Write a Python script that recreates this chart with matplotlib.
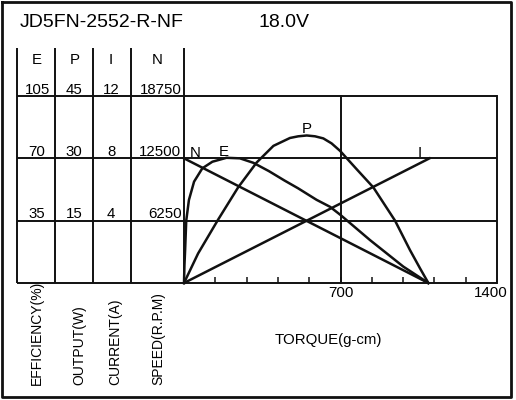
import matplotlib
matplotlib.use("Agg")
import matplotlib.pyplot as plt
from matplotlib.transforms import blended_transform_factory as blend, offset_copy

plt.rcParams['font.family'] = ['Liberation Sans', 'DejaVu Sans']

MODEL = "JD5FN-2552-R-NF"
VOLT = "18.0V"

# ---- curves (torque in g-cm) ----
N_T = [0, 1093]
N_RPM = [12500, 0]
I_T = [0, 1098]
I_A = [0, 8]
P_T = [0, 63, 152, 242, 325, 400, 474, 511, 549, 586, 623, 660, 698, 772, 847, 944, 1011, 1056, 1093]
P_W = [0, 7.1, 15.2, 23.0, 29.0, 33.0, 34.9, 35.3, 35.5, 35.3, 34.8, 33.6, 31.8, 27.4, 23.0, 15.0, 7.9, 3.5, 0]
E_T = [0, 2, 5, 10, 22, 45, 82, 127, 190, 250, 310, 380, 450, 510, 593, 653, 700, 832, 981, 1093]
E_PCT = [0, 10, 18.5, 35, 46.6, 56.9, 64.4, 68.1, 70.3, 70.0, 67.5, 62.8, 57.5, 53.2, 46.7, 42.8, 38.2, 24.1, 9.2, 0]

TORQUE_TICKS = [140, 280, 420, 560, 700, 840, 980, 1120, 1260]
E_TICKS = [35, 70, 105]
P_TICKS = [15, 30, 45]
I_TICKS = [4, 8, 12]
N_TICKS = [6250, 12500, 18750]
HEADS = ["E", "P", "I", "N"]
UNITS = ["EFFICIENCY(%)", "OUTPUT(W)", "CURRENT(A)", "SPEED(R.P.M)"]

# ---- layout (pixels) ----
W, H = 516, 400
L, R, T, B = 184, 497, 96, 283
K = "#111111"
LW_GRID, LW_CURVE = 1.4, 1.8
FS = 10.8

fig = plt.figure(figsize=(W / 100, H / 100), dpi=100)
axN = fig.add_axes([L / W, 1 - B / H, (R - L) / W, (B - T) / H])
axN.set_xlim(0, 1400); axN.set_ylim(0, 18750)
axE = axN.twinx(); axE.set_ylim(0, 105)
axP = axN.twinx(); axP.set_ylim(0, 45)
axI = axN.twinx(); axI.set_ylim(0, 12)
for a in (axN, axE, axP, axI):
    for s in a.spines.values():
        s.set_visible(False)
    a.set_yticks([])
axN.patch.set_visible(False)
axN.set_xticks(TORQUE_TICKS); axN.set_xticklabels([])
axN.tick_params(axis="x", direction="in", length=4.3, width=1.1, color=K)

axN.plot(N_T, N_RPM, color=K, lw=LW_CURVE, clip_on=False)
axI.plot(I_T, I_A, color=K, lw=LW_CURVE, clip_on=False)
axP.plot(P_T, P_W, color=K, lw=LW_CURVE, clip_on=False, solid_joinstyle="round")
axE.plot(E_T, E_PCT, color=K, lw=LW_CURVE, clip_on=False, solid_joinstyle="round")
axN.axvline(700, color=K, lw=LW_GRID, clip_on=False)
axN.axvline(1400, color=K, lw=LW_GRID, clip_on=False)

axN.text(48, 12600, "N", ha="center", va="baseline", fontsize=FS)
axE.text(176, 71.3, "E", ha="center", va="baseline", fontsize=FS)
axP.text(550, 36.2, "P", ha="center", va="baseline", fontsize=FS)
axI.text(1056, 8.1, "I", ha="center", va="baseline", fontsize=FS)

# ---- table / frame overlay ----
ov = fig.add_axes([0, 0, 1, 1])
ov.set_xlim(0, W); ov.set_ylim(H, 0)
ov.axis("off"); ov.patch.set_visible(False)

ov.plot([1.5, 511, 511, 1.5, 1.5], [1.5, 1.5, 397, 397, 1.5], color=K, lw=2.0)
tr_rows = blend(ov.transData, axN.transData)
for v in [0] + N_TICKS:
    ov.plot([17, R], [v, v], color=K, lw=LW_GRID, transform=tr_rows, solid_capstyle="butt")
for x in [17, 55, 93, 131]:
    ov.plot([x, x], [48, B], color=K, lw=LW_GRID, solid_capstyle="butt")
ov.plot([0, 0], [48, B], color=K, lw=LW_GRID, transform=blend(axN.transData, ov.transData),
        solid_capstyle="butt")

ov.text(20, 26.7, MODEL, fontsize=14, ha="left", va="baseline")
ov.text(258, 26.7, VOLT, fontsize=14, ha="left", va="baseline")

for x, h in zip([37, 75, 111, 157.5], HEADS):
    ov.text(x, 64, h, fontsize=FS, ha="center", va="baseline")

cols = [(axE, E_TICKS, 37, "center"), (axP, P_TICKS, 74, "center"),
        (axI, I_TICKS, 111, "center"), (axN, N_TICKS, 181.5, "right")]
for a, ticks, x, ha in cols:
    tr = offset_copy(blend(ov.transData, a.transData), fig=fig, y=2.5, units="dots")
    for v in ticks:
        ov.text(x, v, str(v), fontsize=FS, ha=ha, va="baseline", transform=tr)

tr_x = blend(axN.transData, ov.transData)
ov.text(700, 296.7, "700", fontsize=FS, ha="center", va="baseline", transform=tr_x)
ov.text(1400, 296.7, "1400", fontsize=FS, ha="right", va="baseline",
        transform=offset_copy(tr_x, fig=fig, x=11, units="dots"))
ov.text(328, 344, "TORQUE(g-cm)", fontsize=FS, ha="center", va="baseline")

for x, u in zip([37, 79, 115.5, 158.5], UNITS):
    ov.text(x, 385, u, fontsize=10, rotation=90, ha="center", va="bottom")

fig.savefig("out.png", dpi=100)
